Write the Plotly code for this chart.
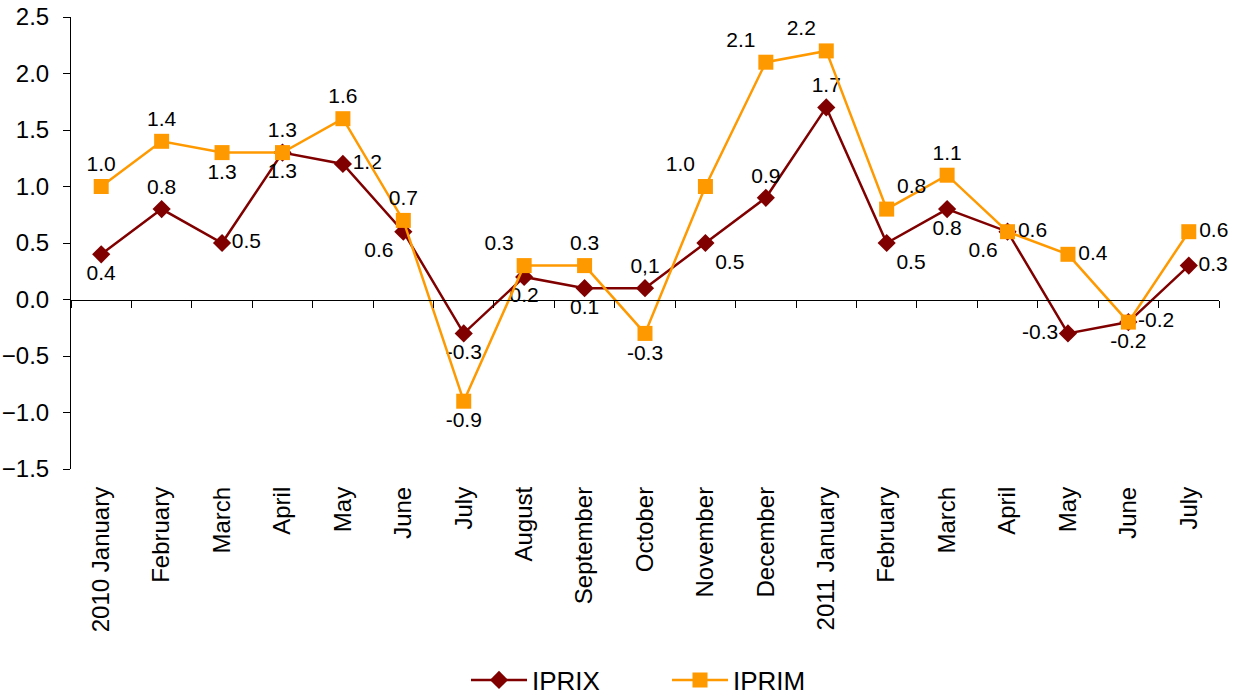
import plotly.graph_objects as go

months = ["2010 January", "February", "March", "April", "May", "June", "July",
          "August", "September", "October", "November", "December",
          "2011 January", "February", "March", "April", "May", "June", "July"]
iprix = [0.4, 0.8, 0.5, 1.3, 1.2, 0.6, -0.3, 0.2, 0.1, 0.1, 0.5, 0.9, 1.7,
         0.5, 0.8, 0.6, -0.3, -0.2, 0.3]
iprim = [1.0, 1.4, 1.3, 1.3, 1.6, 0.7, -0.9, 0.3, 0.3, -0.3, 1.0, 2.1, 2.2,
         0.8, 1.1, 0.6, 0.4, -0.2, 0.6]
iprix_labels = ["0.4", "0.8", "0.5", "1.3", "1.2", "0.6", "-0.3", "0.2", "0.1", "0,1",
                "0.5", "0.9", "1.7", "0.5", "0.8", "0.6", "-0.3", "-0.2", "0.3"]
iprim_labels = ["1.0", "1.4", "1.3", "1.3", "1.6", "0.7", "-0.9", "0.3", "0.3", "-0.3",
                "1.0", "2.1", "2.2", "0.8", "1.1", "0.6", "0.4", "-0.2", "0.6"]

iprix_pos = ["bottom center", "top center", "middle right", "bottom center", "middle right",
             "bottom left", "bottom center", "bottom center", "bottom center", "top center",
             "bottom right", "top center", "top center", "bottom right", "bottom center",
             "bottom left", "middle left", "middle right", "middle right"]
iprim_pos = ["top center", "top center", "bottom center", "top center", "top center",
             "top center", "bottom center", "top left", "top center", "bottom center",
             "top left", "top left", "top left", "top right", "top center",
             "middle right", "middle right", "bottom center", "middle right"]

FONT = "Liberation Sans, Arial, sans-serif"
x = list(range(len(months)))

fig = go.Figure()
fig.add_trace(go.Scatter(
    x=x, y=iprix, name="IPRIX", mode="lines+markers+text",
    line=dict(color="#800000", width=2.5),
    marker=dict(symbol="diamond", size=14, color="#800000"),
    text=iprix_labels, textposition=iprix_pos,
    textfont=dict(size=21, color="black", family=FONT),
    cliponaxis=False,
))
fig.add_trace(go.Scatter(
    x=x, y=iprim, name="IPRIM", mode="lines+markers+text",
    line=dict(color="#FF9900", width=2.5),
    marker=dict(symbol="square", size=15, color="#FF9900"),
    text=iprim_labels, textposition=iprim_pos,
    textfont=dict(size=21, color="black", family=FONT),
    cliponaxis=False,
))

W, H = 1252, 697
xr = [-0.5, len(months) - 0.5]
fig.update_layout(
    width=W, height=H,
    margin=dict(l=71, r=33, t=17, b=228, autoexpand=False),
    paper_bgcolor="white", plot_bgcolor="white",
    font=dict(family=FONT, color="black"),
    showlegend=True,
    legend=dict(orientation="h", x=466 / W, xanchor="left", xref="container",
                y=17 / H, yanchor="middle", yref="container",
                font=dict(size=26, family=FONT), itemwidth=56,
                entrywidthmode="pixels", entrywidth=130),
    xaxis=dict(range=xr, tickmode="array", tickvals=x, ticktext=months,
               tickangle=-90, showline=False, ticks="", showgrid=False,
               zeroline=False, tickfont=dict(size=24, family=FONT),
               ticklabelstandoff=12, automargin=False),
    xaxis2=dict(range=xr, overlaying="x", anchor="free", position=0.375,
                side="bottom", showline=True, linecolor="black", linewidth=1,
                ticks="outside", ticklen=7, tickcolor="black",
                tickmode="array", tickvals=[i - 0.5 for i in range(len(months) + 1)],
                showticklabels=False, showgrid=False, zeroline=False,
                automargin=False),
    yaxis=dict(range=[-1.5, 2.5], tickmode="linear", tick0=-1.5, dtick=0.5,
               tickformat=".1f", showline=True, linecolor="black", linewidth=1,
               ticks="outside", ticklen=7, tickcolor="black", showgrid=False,
               zeroline=False, tickfont=dict(size=24, family=FONT),
               ticklabelstandoff=9, automargin=False, ticklabeloverflow="allow"),
)
# invisible trace so that the zero-line axis renders
fig.add_trace(go.Scatter(x=[0], y=[None], xaxis="x2", showlegend=False,
                         hoverinfo="skip"))

fig.write_html("out.html",
               config={"displayModeBar": False},
               post_script="document.body.style.margin='0';"
                           "document.body.style.overflow='hidden';")
